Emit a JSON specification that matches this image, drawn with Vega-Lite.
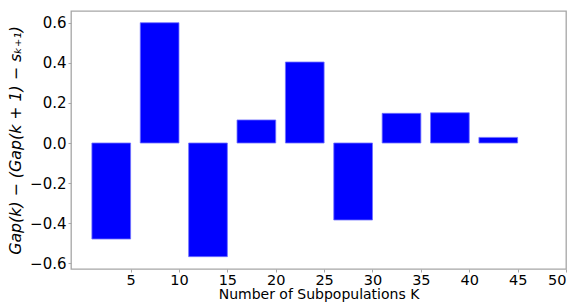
{
  "$schema": "https://vega.github.io/schema/vega-lite/v6.json",
  "width": 495,
  "height": 258,
  "autosize": "none",
  "padding": {"left": 71, "top": 11, "right": 10, "bottom": 35},
  "background": "white",
  "config": {
    "view": {"stroke": "#a6a6a6", "strokeWidth": 1.3},
    "axis": {
      "grid": false,
      "domain": false,
      "tickColor": "#a6a6a6",
      "tickSize": 3,
      "labelFont": "DejaVu Sans",
      "labelFontSize": 15,
      "labelColor": "black",
      "titleFont": "DejaVu Sans",
      "titleFontSize": 15,
      "titleFontWeight": "normal",
      "titleColor": "black"
    }
  },
  "data": {
    "values": [
      {"k0": 1, "k1": 5, "v": -0.479},
      {"k0": 6, "k1": 10, "v": 0.600},
      {"k0": 11, "k1": 15, "v": -0.567},
      {"k0": 16, "k1": 20, "v": 0.115},
      {"k0": 21, "k1": 25, "v": 0.404},
      {"k0": 26, "k1": 30, "v": -0.384},
      {"k0": 31, "k1": 35, "v": 0.148},
      {"k0": 36, "k1": 40, "v": 0.151},
      {"k0": 41, "k1": 45, "v": 0.028}
    ]
  },
  "mark": {"type": "bar", "color": "#0000ff", "stroke": "#7070ff", "strokeWidth": 0.8},
  "encoding": {
    "x": {
      "field": "k0",
      "type": "quantitative",
      "scale": {"domain": [-1.16, 50], "nice": false, "zero": false},
      "axis": {
        "values": [5, 10, 15, 20, 25, 30, 35, 40, 45, 50],
        "title": "Number of Subpopulations K",
        "labelFontSize": 14.5,
        "titleFontSize": 14,
        "labelPadding": 1,
        "titlePadding": 1
      }
    },
    "x2": {"field": "k1"},
    "y": {
      "field": "v",
      "type": "quantitative",
      "scale": {"domain": [-0.6285, 0.6585], "nice": false, "zero": false},
      "axis": {
        "values": [-0.6, -0.4, -0.2, 0, 0.2, 0.4, 0.6],
        "format": ".1f",
        "title": "Gap(k) − (Gap(k + 1) − sₖ₊₁)",
        "titleFontStyle": "italic",
        "titleFontSize": 15.8,
        "labelPadding": 2,
        "titlePadding": 6
      }
    },
    "y2": {"datum": 0}
  }
}
